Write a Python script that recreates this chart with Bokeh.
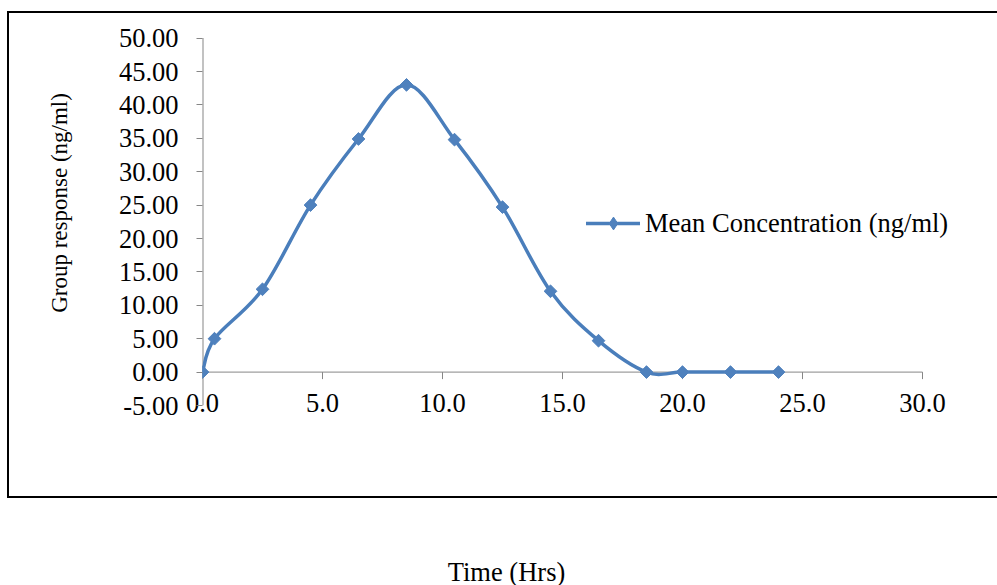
import numpy as np
from bokeh.plotting import figure
from bokeh.layouts import column
from bokeh.models import (ColumnDataSource, FixedTicker, NumeralTickFormatter,
                          Legend, LegendItem, Label, Range1d)
from bokeh.embed import file_html
from bokeh.resources import INLINE

# ---- data ----
time_hrs = [0, 0.5, 2.5, 4.5, 6.5, 8.5, 10.5, 12.5, 14.5, 16.5, 18.5, 20, 22, 24]
mean_conc = [0.0, 5.0, 12.4, 25.0, 34.9, 43.0, 34.8, 24.7, 12.1, 4.7, 0.0, 0.0, 0.0, 0.0]
x_ticks = [0, 5, 10, 15, 20, 25, 30]
y_ticks = [-5, 0, 5, 10, 15, 20, 25, 30, 35, 40, 45, 50]
series_name = "Mean Concentration (ng/ml)"
x_title = "Time (Hrs)"
y_title = "Group response (ng/ml)"

# ---- style / layout ----
FONT = "Liberation Serif"
FS = "26.5px"
LINE_C = "#4A7EBB"
MARK_C = "#4F81BD"
AXIS_C = "#868686"
X_MIN, X_MAX = 0, 30
Y_MIN, Y_MAX = -5, 50
X_VIEW_END = 33.125   # frame runs past 30 so the legend is not clipped
Y_VIEW_END = 55.63    # frame runs to the top of the canvas


def smooth_segments(xs, ys):
    """Excel-like smoothed line: Catmull-Rom converted to cubic Bezier segments."""
    n = len(xs)
    d = dict(x0=[], y0=[], x1=[], y1=[], cx0=[], cy0=[], cx1=[], cy1=[])
    for i in range(n - 1):
        i0 = max(i - 1, 0)
        i3 = min(i + 2, n - 1)
        d["x0"].append(xs[i]); d["y0"].append(ys[i])
        d["x1"].append(xs[i + 1]); d["y1"].append(ys[i + 1])
        d["cx0"].append(xs[i] + (xs[i + 1] - xs[i0]) / 6.0)
        d["cy0"].append(ys[i] + (ys[i + 1] - ys[i0]) / 6.0)
        d["cx1"].append(xs[i + 1] - (xs[i3] - xs[i]) / 6.0)
        d["cy1"].append(ys[i + 1] - (ys[i3] - ys[i]) / 6.0)
    return d


# chart-area border (drawn as CSS background behind a transparent canvas)
box_styles = {
    "background-color": "white",
    "background-image": "linear-gradient(#000,#000), linear-gradient(#000,#000), linear-gradient(#000,#000)",
    "background-size": "990px 2px, 990px 2px, 2px 487px",
    "background-position": "7px 11px, 7px 496px, 7px 11px",
    "background-repeat": "no-repeat",
}

p = figure(width=997, height=505, output_backend="svg", toolbar_location=None,
           x_range=Range1d(X_MIN, X_VIEW_END), y_range=Range1d(Y_MIN, Y_VIEW_END),
           min_border_left=202, min_border_right=0,
           min_border_top=0, min_border_bottom=100, styles=box_styles)
p.outline_line_color = None
p.xgrid.visible = False
p.ygrid.visible = False
p.background_fill_alpha = 0
p.border_fill_alpha = 0

# y axis
ya = p.yaxis[0]
ya.ticker = FixedTicker(ticks=y_ticks)
ya.formatter = NumeralTickFormatter(format="0.00")
ya.bounds = (Y_MIN, 55)
ya.axis_line_color = None
ya.major_tick_line_color = AXIS_C
ya.major_tick_out = 6
ya.major_tick_in = 0
ya.minor_tick_line_color = None
ya.major_label_standoff = 18
ya.major_label_text_font = FONT
ya.major_label_text_font_size = FS
ya.major_label_text_color = "black"
ya.axis_label = y_title
ya.axis_label_text_font = FONT
ya.axis_label_text_font_size = "23px"
ya.axis_label_text_font_style = "normal"
ya.axis_label_text_color = "black"
ya.axis_label_standoff = 44

# x axis (labels only; its line is drawn at y = 0)
xa = p.xaxis[0]
xa.ticker = FixedTicker(ticks=x_ticks)
xa.formatter = NumeralTickFormatter(format="0.0")
xa.axis_line_color = None
xa.major_tick_line_color = None
xa.minor_tick_line_color = None
xa.major_tick_out = 0
xa.major_tick_in = 0
xa.major_label_standoff = -12
xa.major_label_text_font = FONT
xa.major_label_text_font_size = FS
xa.major_label_text_color = "black"

# axis rules and x tick marks
p.segment(x0=[X_MIN], y0=[Y_MIN], x1=[X_MIN], y1=[Y_MAX], line_color=AXIS_C, line_width=2, level="underlay")
p.segment(x0=[X_MIN], y0=[0], x1=[X_MAX], y1=[0], line_color=AXIS_C, line_width=1, level="underlay")
p.segment(x0=x_ticks, y0=[0] * len(x_ticks), x1=x_ticks, y1=[-1.05] * len(x_ticks),
          line_color=AXIS_C, line_width=1, level="underlay")

# smoothed series with markers
seg_src = ColumnDataSource(smooth_segments(time_hrs, mean_conc))
curve = p.bezier(x0="x0", y0="y0", x1="x1", y1="y1", cx0="cx0", cy0="cy0", cx1="cx1", cy1="cy1",
                 source=seg_src, line_color=LINE_C, line_width=3.5, line_cap="round")
pt_src = ColumnDataSource(dict(t=time_hrs, c=mean_conc))
# diamond glyph (lies entirely inside the rotated squares below; supplies the legend swatch)
legend_marker = p.scatter("t", "c", source=pt_src, marker="diamond", size=11,
                          fill_color=MARK_C, line_color=MARK_C, line_width=1)
pts = p.scatter("t", "c", source=pt_src, marker="square", angle=np.pi / 4, size=9,
                fill_color=MARK_C, line_color=MARK_C, line_width=1)

legend = Legend(items=[LegendItem(label=series_name, renderers=[curve, legend_marker])],
                location=(384, 166), orientation="vertical",
                glyph_width=54, glyph_height=32, label_standoff=5,
                padding=0, margin=0, spacing=0,
                label_text_font=FONT, label_text_font_size=FS, label_text_color="black",
                border_line_color=None, background_fill_alpha=0)
p.add_layout(legend, "center")

# horizontal axis title sits below the chart-area border
p2 = figure(width=997, height=80, output_backend="svg", toolbar_location=None,
            x_axis_type=None, y_axis_type=None, min_border=0)
p2.outline_line_color = None
p2.xgrid.visible = False
p2.ygrid.visible = False
p2.add_layout(Label(x=506, y=66, x_units="canvas", y_units="canvas", text=x_title,
                    text_align="center", text_baseline="alphabetic",
                    text_font=FONT, text_font_size=FS, text_color="black"))

layout = column(p, p2, spacing=0)
open("out.html", "w").write(file_html(layout, INLINE))
